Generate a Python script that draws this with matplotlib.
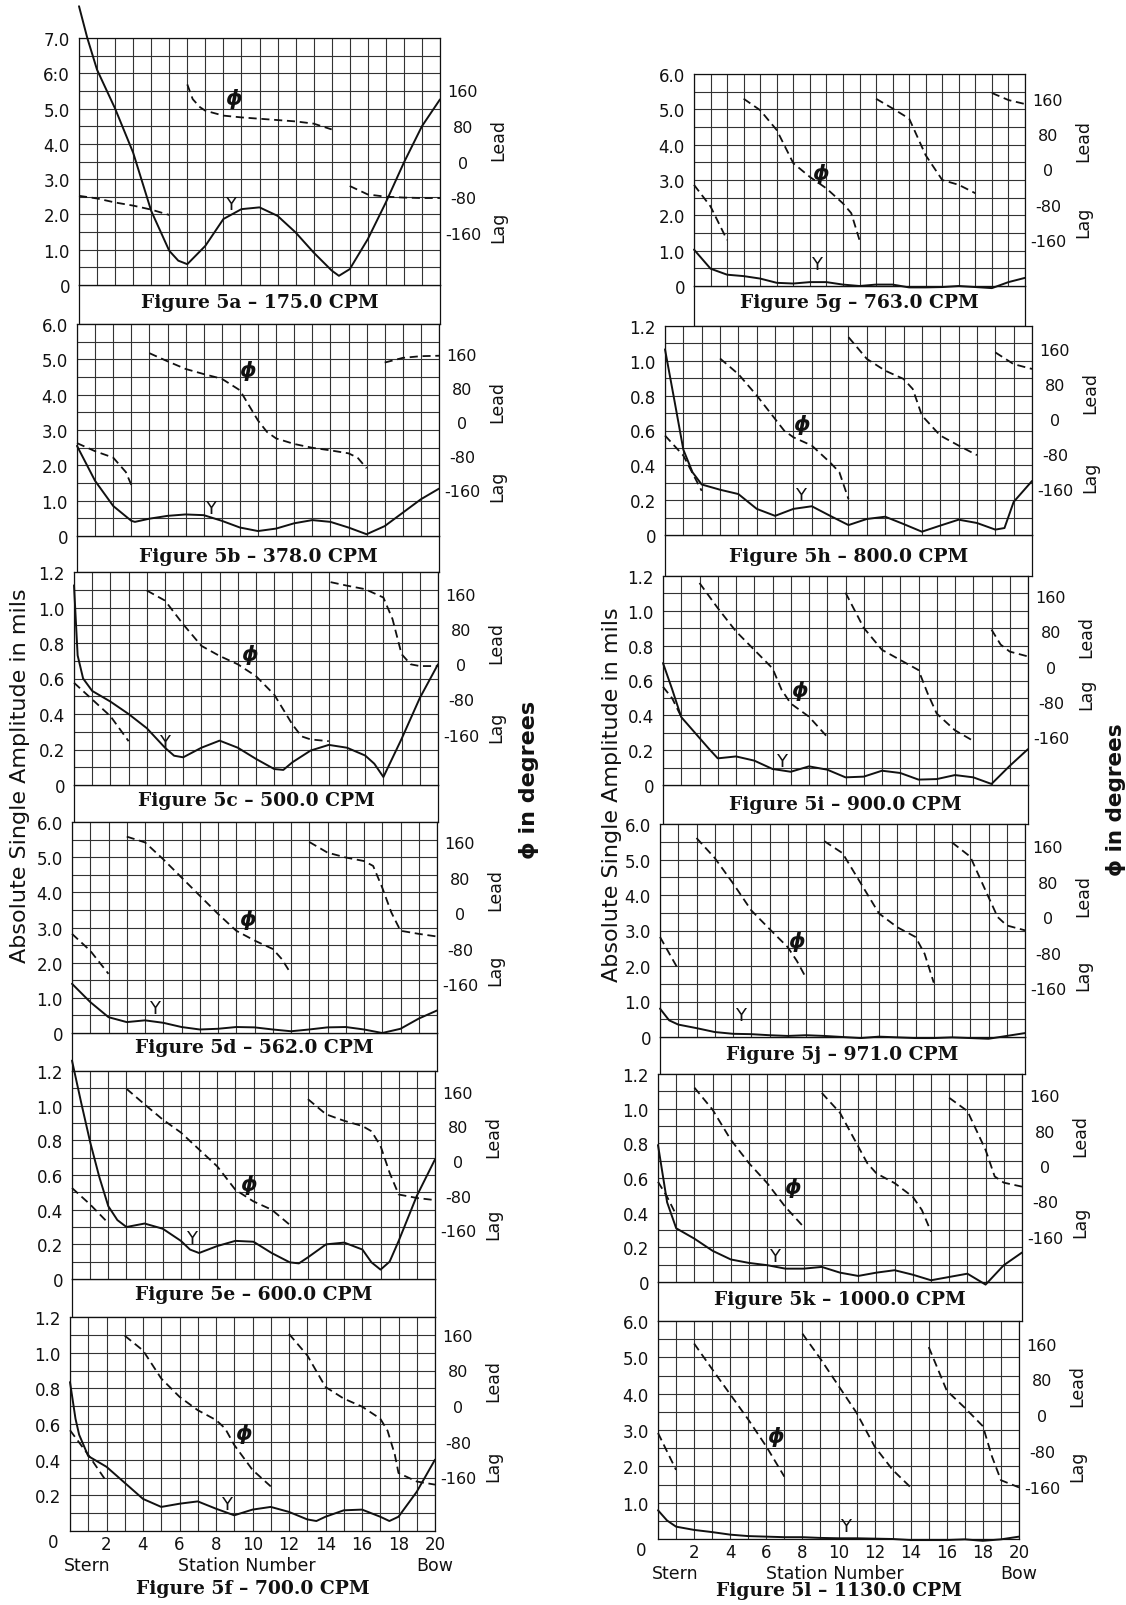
"""
Figures 5a - 5l: vertical response along the hull
solid line = amplitude Y (mils), dashed = phase angle phi (deg)
"""
import numpy as np
import matplotlib
matplotlib.use('Agg')
import matplotlib.pyplot as plt

# ---------------- data ----------------
# 5a - 175.0 CPM
A_st = [0, 0.46, 1, 2, 3, 4, 5, 5.5, 6, 7, 8, 9, 10, 11, 12, 13, 14, 14.4, 15, 16, 17, 18, 19, 20]
A_y = [7.9, 7.0, 6.1, 5.0, 3.75, 2.1, 0.97, 0.69, 0.59, 1.11, 1.87, 2.15, 2.2, 1.96, 1.49, 0.92, 0.41, 0.26, 0.45, 1.3, 2.34, 3.47, 4.5, 5.26]
A_phi = [([0, 1, 2, 3, 4, 5], [-77, -83, -92, -99, -108, -120]),
         ([6, 6.3, 6.7, 7, 8, 9, 10, 11, 12, 13, 14], [173, 140, 122, 114, 103, 99, 96, 93, 90, 85, 72]),
         ([15, 16, 17, 18, 19, 20], [-55, -74, -79, -81, -82, -82])]

# 5b - 378.0 CPM
B_st = [0, 1, 2, 3, 3.2, 4, 5, 6, 7, 8, 9, 10, 11, 12, 13, 14, 15, 16, 17, 18, 19, 20]
B_y = [2.55, 1.56, 0.85, 0.43, 0.40, 0.49, 0.57, 0.61, 0.59, 0.43, 0.24, 0.14, 0.21, 0.36, 0.45, 0.40, 0.24, 0.05, 0.28, 0.66, 1.04, 1.34]
B_phi = [([0, 1, 2, 2.7, 3], [-49, -68, -83, -117, -147]),
         ([4, 5, 6, 7, 8, 9, 10, 10.5, 11, 12, 13, 14, 15, 15.5, 16],
          [162, 143, 125, 113, 102, 75, 4, -23, -38, -51, -60, -66, -73, -83, -108]),
         ([17, 18, 19, 20], [140, 151, 155, 156])]

# 5c - 500.0 CPM
C_st = [0, 0.2, 0.5, 1, 2, 3, 4, 5, 5.5, 6, 7, 8, 9, 10, 11, 11.5, 12, 13, 14, 15, 16, 16.5, 17, 18, 19, 20]
C_y = [1.125, 0.73, 0.6, 0.53, 0.47, 0.40, 0.32, 0.21, 0.165, 0.156, 0.21, 0.25, 0.21, 0.147, 0.09, 0.085,
       0.128, 0.194, 0.226, 0.21, 0.166, 0.12, 0.045, 0.26, 0.49, 0.68]
C_phi = [([0, 1, 2, 3], [-42, -80, -118, -175]),
         ([4, 5, 6, 7, 8, 9, 10, 11, 12, 12.5, 13, 14], [168, 145, 91, 42, 19, 0, -27, -69, -137, -164, -171, -175]),
         ([14.1, 15, 16, 17, 17.5, 18, 18.5, 19, 20], [187, 179, 171, 152, 103, 23, 0, -4, -4])]

# 5d - 562.0 CPM
D_st = list(range(21))
D_y = [1.4, 0.88, 0.45, 0.31, 0.36, 0.29, 0.17, 0.1, 0.12, 0.17, 0.16, 0.1, 0.05, 0.1, 0.16, 0.17, 0.1, 0.0, 0.12, 0.41, 0.64]
D_phi = [([0, 1, 2], [-46, -84, -136]),
         ([3, 4, 5, 6, 7, 8, 9, 10, 11, 11.5, 12], [173, 160, 122, 81, 40, -1, -39, -61, -80, -103, -136]),
         ([13, 14, 15, 16, 16.5, 17, 17.5, 18, 19, 20], [161, 137, 126, 118, 107, 58, 2, -39, -46, -52])]

# 5e - 600.0 CPM
E_st = [0, 0.5, 1, 1.5, 2, 2.5, 3, 4, 5, 6, 6.5, 7, 8, 9, 10, 11, 12, 12.5, 13, 14, 15, 16, 16.5, 17, 17.5, 18, 19, 20]
E_y = [1.26, 1.02, 0.79, 0.59, 0.42, 0.34, 0.30, 0.32, 0.29, 0.22, 0.17, 0.15, 0.19, 0.22, 0.215, 0.15, 0.096,
       0.09, 0.125, 0.20, 0.21, 0.17, 0.096, 0.054, 0.10, 0.22, 0.48, 0.69]
E_phi = [([0, 1, 2], [-62, -100, -143]),
         ([3, 4, 5, 6, 7, 8, 9, 10, 11, 12], [167, 131, 96, 66, 27, -12, -66, -93, -112, -147]),
         ([13, 14, 15, 16, 16.5, 17, 17.5, 18, 19, 20], [143, 108, 93, 81, 69, 35, -27, -77, -85, -90])]

# 5f - 700.0 CPM
F_st = [0, 0.3, 0.5, 1, 1.5, 2, 3, 4, 5, 6, 7, 8, 9, 10, 11, 12, 13, 13.5, 14, 15, 16, 17, 17.5, 18, 19, 20]
F_y = [0.835, 0.63, 0.54, 0.42, 0.39, 0.36, 0.27, 0.18, 0.135, 0.153, 0.166, 0.125, 0.088, 0.12, 0.135, 0.107,
       0.065, 0.056, 0.08, 0.116, 0.12, 0.08, 0.056, 0.08, 0.22, 0.4]
F_phi = [([0, 1, 2], [-54, -109, -169]),
         ([3, 4, 5, 6, 7, 8, 8.5, 9, 10, 11], [158, 125, 62, 21, -9, -31, -50, -87, -143, -180]),
         ([12, 13, 14, 15, 16, 17, 17.4, 17.8, 18, 19, 20], [162, 114, 43, 17, -1, -28, -55, -109, -150, -169, -176])]

# 5g - 763.0 CPM
G_st = list(range(21))
G_y = [1.03, 0.49, 0.32, 0.28, 0.21, 0.09, 0.07, 0.11, 0.11, 0.04, 0.0, 0.04, 0.04, -0.04, -0.04, -0.03, 0.0,
       -0.03, -0.06, 0.11, 0.23]
G_phi = [([0, 1, 2], [-35, -84, -160]),
         ([3, 4, 5, 6, 7, 8, 9, 9.5, 10], [160, 134, 89, 14, -17, -43, -77, -99, -160]),
         ([11, 12, 13, 14, 15, 16, 17], [160, 138, 115, 32, -24, -35, -54]),
         ([18, 19, 20], [173, 157, 148])]

# 5h - 800.0 CPM
H_st = [0, 0.5, 1, 1.5, 2, 3, 4, 5, 6, 7, 8, 9, 10, 11, 12, 13, 14, 15, 16, 17, 18, 18.5, 19, 20]
H_y = [1.066, 0.78, 0.49, 0.36, 0.29, 0.26, 0.235, 0.15, 0.11, 0.15, 0.165, 0.11, 0.057, 0.092, 0.105, 0.063,
       0.019, 0.054, 0.088, 0.069, 0.031, 0.04, 0.19, 0.31]
H_phi = [([0, 1, 2], [-38, -84, -165]),
         ([3, 4, 5, 6, 6.5, 7, 8, 9, 9.5, 10], [139, 103, 54, 0, -27, -42, -61, -100, -122, -184]),
         ([10, 11, 12, 13, 13.5, 14, 15, 16, 17], [188, 138, 111, 92, 69, 8, -38, -61, -83]),
         ([18, 19, 20], [153, 126, 115])]

# 5i - 900.0 CPM
I_st = [0, 0.5, 1, 2, 2.5, 3, 4, 5, 6, 7, 8, 9, 10, 11, 12, 13, 14, 15, 16, 17, 18, 19, 20]
I_y = [0.70, 0.55, 0.39, 0.27, 0.21, 0.153, 0.164, 0.14, 0.092, 0.076, 0.107, 0.088, 0.044, 0.048, 0.082,
       0.069, 0.031, 0.034, 0.057, 0.044, 0.006, 0.11, 0.206]
I_phi = [([0, 0.5, 1], [-46, -72, -114]),
         ([2, 3, 4, 5, 6, 6.5, 7, 8, 9], [190, 133, 80, 38, -4, -53, -84, -114, -160]),
         ([10, 11, 12, 13, 14, 14.5, 15, 16, 17], [168, 88, 38, 15, -8, -61, -107, -145, -169]),
         ([18, 18.5, 19, 20], [84, 50, 34, 23])]

# 5j - 971.0 CPM
J_st = [0, 0.5, 1, 2, 3, 4, 5, 6, 7, 8, 9, 10, 11, 12, 13, 14, 15, 16, 17, 18, 19, 20]
J_y = [0.8, 0.47, 0.35, 0.25, 0.14, 0.09, 0.08, 0.05, 0.03, 0.05, 0.03, 0.0, -0.03, 0.01, -0.01, -0.03,
       -0.03, -0.01, -0.03, -0.05, 0.03, 0.11]
J_phi = [([0, 1], [-45, -118]),
         ([2, 3, 4, 5, 6, 7, 7.5, 8], [178, 133, 76, 15, -27, -68, -99, -137]),
         ([9, 10, 11, 12, 13, 14, 14.5, 15], [171, 144, 76, 8, -23, -45, -83, -148]),
         ([16, 17, 18, 18.5, 19, 20], [168, 136, 45, 0, -19, -30])]

# 5k - 1000.0 CPM
K_st = [0, 0.5, 1, 2, 3, 4, 5, 6, 7, 8, 9, 10, 11, 12, 13, 14, 15, 16, 17, 18, 19, 20]
K_y = [0.79, 0.46, 0.31, 0.25, 0.18, 0.13, 0.11, 0.097, 0.077, 0.077, 0.087, 0.054, 0.035, 0.054, 0.068,
       0.042, 0.01, 0.029, 0.048, -0.015, 0.097, 0.17]
K_phi = [([0, 0.5, 1], [-36, -70, -111]),
         ([2, 3, 4, 5, 6, 7, 8], [177, 127, 59, 6, -39, -93, -138]),
         ([9, 10, 11, 11.5, 12, 13, 14, 14.5, 15], [165, 120, 44, 6, -17, -39, -70, -100, -149]),
         ([16, 17, 18, 18.5, 19, 20], [154, 124, 36, -24, -38, -47])]

# 5l - 1130.0 CPM
L_st = [0, 0.5, 1, 2, 3, 4, 5, 6, 7, 8, 9, 10, 11, 12, 13, 14, 15, 16, 17, 18, 19, 20]
L_y = [0.79, 0.51, 0.34, 0.25, 0.19, 0.12, 0.08, 0.065, 0.05, 0.05, 0.03, 0.02, 0.02, 0.01, 0.0, -0.03,
       -0.03, -0.03, -0.01, -0.05, -0.01, 0.065]
L_phi = [([0, 1], [-39, -121]),
         ([2, 3, 4, 5, 6, 7], [160, 103, 47, -9, -69, -136]),
         ([8, 9, 10, 11, 12, 13, 14], [182, 126, 66, 6, -69, -121, -160]),
         ([15, 16, 17, 18, 18.5, 19, 20], [152, 55, 17, -24, -91, -144, -160])]

yl_7 = ['0', '1.0', '2.0', '3.0', '4.0', '5.0', '6:0', '7.0']
yl_6 = ['0', '1.0', '2.0', '3.0', '4.0', '5.0', '6.0']
yl_12 = ['0', '0.2', '0.4', '0.6', '0.8', '1.0', '1.2']
phi_ticks = [-160, -80, 0, 80, 160]
x_ticks = [0, 2, 4, 6, 8, 10, 12, 14, 16, 18, 20]

# key, cpm, stations, Y, phase segments, top of amplitude scale, tick labels
panels = [
    ('5a', '175.0', A_st, A_y, A_phi, 7.0, yl_7),
    ('5b', '378.0', B_st, B_y, B_phi, 6.0, yl_6),
    ('5c', '500.0', C_st, C_y, C_phi, 1.2, yl_12),
    ('5d', '562.0', D_st, D_y, D_phi, 6.0, yl_6),
    ('5e', '600.0', E_st, E_y, E_phi, 1.2, yl_12),
    ('5f', '700.0', F_st, F_y, F_phi, 1.2, yl_12),
    ('5g', '763.0', G_st, G_y, G_phi, 6.0, yl_6),
    ('5h', '800.0', H_st, H_y, H_phi, 1.2, yl_12),
    ('5i', '900.0', I_st, I_y, I_phi, 1.2, yl_12),
    ('5j', '971.0', J_st, J_y, J_phi, 6.0, yl_6),
    ('5k', '1000.0', K_st, K_y, K_phi, 1.2, yl_12),
    ('5l', '1130.0', L_st, L_y, L_phi, 6.0, yl_6),
]

# ---------------- layout (pixels of the 1126 x 1606 sheet) ----------------
# rect = (left, right, top, bottom); z = phase zero in grid steps, s = steps per 80 deg
layout = {
    '5a': dict(rect=(79, 440, 39, 286), z=3.5, s=1.01, cap=303, lead=51, lag=-146, phi_at=(8.55, 5.3), y_at=(8.4, 2.3)),
    '5b': dict(rect=(77, 439, 325, 537), z=3.22, s=0.965, cap=557, lead=50, lag=-148, phi_at=(9.45, 4.72), y_at=(7.4, 0.8)),
    '5c': dict(rect=(74, 438, 573, 786), z=3.4, s=0.99, cap=801, lead=50, lag=-141, phi_at=(9.66, 0.74), y_at=(5.0, 0.24)),
    '5d': dict(rect=(72, 437, 823, 1034), z=3.4, s=1.01, cap=1048, lead=56, lag=-125, phi_at=(9.6, 3.25), y_at=(4.5, 0.7)),
    '5e': dict(rect=(72, 435, 1072, 1280), z=3.4, s=1.0, cap=1295, lead=58, lag=-144, phi_at=(9.72, 0.55), y_at=(6.6, 0.235)),
    '5f': dict(rect=(70, 435, 1318, 1532), z=3.5, s=1.0, cap=1589, lead=58, lag=-132, phi_at=(9.5, 0.55), y_at=(8.6, 0.15)),
    '5g': dict(rect=(694, 1025, 75, 287), z=3.3, s=1.0, cap=303, lead=66, lag=-118, phi_at=(7.65, 3.2), y_at=(7.4, 0.63)),
    '5h': dict(rect=(665, 1032, 327, 536), z=3.33, s=1.0, cap=557, lead=61, lag=-132, phi_at=(7.45, 0.64), y_at=(7.36, 0.23)),
    '5i': dict(rect=(663, 1028, 577, 786), z=3.4, s=1.01, cap=805, lead=70, lag=-61, phi_at=(7.5, 0.55), y_at=(6.5, 0.135)),
    '5j': dict(rect=(660, 1025, 825, 1038), z=3.38, s=1.0, cap=1055, lead=49, lag=-130, phi_at=(7.5, 2.72), y_at=(4.4, 0.63)),
    '5k': dict(rect=(658, 1022, 1075, 1283), z=3.35, s=1.02, cap=1300, lead=70, lag=-126, phi_at=(7.4, 0.55), y_at=(6.4, 0.15)),
    '5l': dict(rect=(658, 1019, 1322, 1540), z=3.4, s=0.99, cap=1591, lead=67, lag=-110, phi_at=(6.5, 2.84), y_at=(10.4, 0.35)),
}
columns = [['5a', '5b', '5c', '5d', '5e', '5f'], ['5g', '5h', '5i', '5j', '5k', '5l']]

W, H = 1126, 1606
INK = '#111111'
GRID = '#333333'
SERIF = 'DejaVu Serif'

plt.rcParams['font.family'] = ['DejaVu Sans']

fig = plt.figure(figsize=(W / 100, H / 100), dpi=100)
fig.patch.set_facecolor('white')


def frac(x0, x1, yt, yb):
    return [x0 / W, 1 - yb / H, (x1 - x0) / W, (yb - yt) / H]


def fig_text(x, y, s, **kw):
    fig.text(x / W, 1 - y / H, s, **kw)


by_key = {p[0]: p for p in panels}

for col in columns:
    for i, key in enumerate(col):
        _, cpm, st, yv, segs, top, ylabels = by_key[key]
        lay = layout[key]
        x0, x1, yt, yb = lay['rect']
        n = len(ylabels) - 1
        bottom_row = (i == len(col) - 1)

        ax = fig.add_axes(frac(x0, x1, yt, yb))
        ax.set_xlim(0, 20)
        ax.set_ylim(0, top)
        ax.set_xticks(np.arange(0, 21, 1), minor=True)
        ax.set_yticks(np.linspace(0, top, 2 * n + 1), minor=True)
        ax.set_yticks(np.linspace(0, top, n + 1))
        ax.set_yticklabels(['' if (bottom_row and j == 0) else t for j, t in enumerate(ylabels)])
        if bottom_row:
            ax.set_xticks(x_ticks)
            ax.set_xticklabels([''] + [str(v) for v in x_ticks[1:]])
            ax.tick_params(axis='x', pad=3, labelsize=12, colors=INK)
            ax.annotate('0', xy=(0, 0), xycoords='data', xytext=(-17, -11),
                        textcoords='offset pixels', ha='center', va='center', fontsize=12, color=INK)
        else:
            ax.set_xticks([])
        # grid on every station and every half step (major + minor)
        ax.grid(which='both', color=GRID, lw=0.8)
        ax.set_axisbelow(True)
        ax.tick_params(which='both', length=0)
        ax.tick_params(axis='y', pad=6.5, labelsize=12, colors=INK)
        for sp in ax.spines.values():
            sp.set_color(INK)
            sp.set_linewidth(0.9)

        ax.plot(st, yv, color=INK, lw=1.4, clip_on=False, zorder=3,
                solid_joinstyle='round', solid_capstyle='round')
        ax.text(*lay['phi_at'], '\u03d5', fontsize=15, fontweight='bold', fontstyle='italic',
                ha='center', va='center', color=INK, zorder=4)
        ax.text(*lay['y_at'], 'Y', fontsize=13, ha='center', va='center', color=INK, zorder=4)

        # phase on its own scale, 80 deg per grid step
        z, s = lay['z'], lay['s']
        ax2 = ax.twinx()
        ax2.set_ylim(-z * 80 / s, (n - z) * 80 / s)
        ax2.set_yticks(phi_ticks)
        ax2.set_yticklabels([str(v) for v in phi_ticks])
        ax2.tick_params(length=0, pad=16.5, labelsize=11.5, colors=INK)
        for lbl in ax2.get_yticklabels():
            lbl.set_horizontalalignment('center')
        for sp in ax2.spines.values():
            sp.set_visible(False)
        for sx, sy in segs:
            ax2.plot(sx, sy, color=INK, lw=1.3, dashes=(4.5, 2.6), clip_on=False)
        for word, pos in (('Lead', lay['lead']), ('Lag', lay['lag'])):
            ax2.annotate(word, xy=(1, pos), xycoords=('axes fraction', 'data'), xytext=(58, 0),
                         textcoords='offset pixels', rotation=90, ha='center', va='center',
                         fontsize=12.5, color=INK)

        title = f'Figure {key} \u2013 {cpm} CPM'
        cx = (x0 + x1) / 2
        if not bottom_row:
            nxt = layout[col[i + 1]]['rect'][2]
            cap = fig.add_axes(frac(x0, x1, yb, nxt))
            cap.set_facecolor('none')
            cap.set_xticks([])
            cap.set_yticks([])
            for sp in cap.spines.values():
                sp.set_color(INK)
                sp.set_linewidth(0.9)
            cap.set_zorder(-1)
        fig_text(cx, lay['cap'], title, family=SERIF, fontweight='bold', fontsize=13.5,
                 ha='center', va='center', color=INK)

        if bottom_row:
            ty = yb + 34
            fig_text(x0 + 17, ty, 'Stern', fontsize=12.5, ha='center', va='center', color=INK)
            fig_text(x0 + 177, ty, 'Station Number', fontsize=12.5, ha='center', va='center', color=INK)
            fig_text(x1, ty, 'Bow', fontsize=12.5, ha='center', va='center', color=INK)

# side labels
fig_text(20, 776, 'Absolute Single Amplitude in mils', rotation=90, fontsize=16,
         ha='center', va='center', color=INK)
fig_text(612, 795, 'Absolute Single Amplitude in mils', rotation=90, fontsize=16,
         ha='center', va='center', color=INK)
fig_text(529, 780, '\u03d5 in degrees', rotation=90, fontsize=16, fontweight='bold',
         ha='center', va='center', color=INK)
fig_text(1116, 800, '\u03d5 in degrees', rotation=90, fontsize=15.5, fontweight='bold',
         ha='center', va='center', color=INK)

fig.savefig('out.png', dpi=100, facecolor='white')
plt.close(fig)
